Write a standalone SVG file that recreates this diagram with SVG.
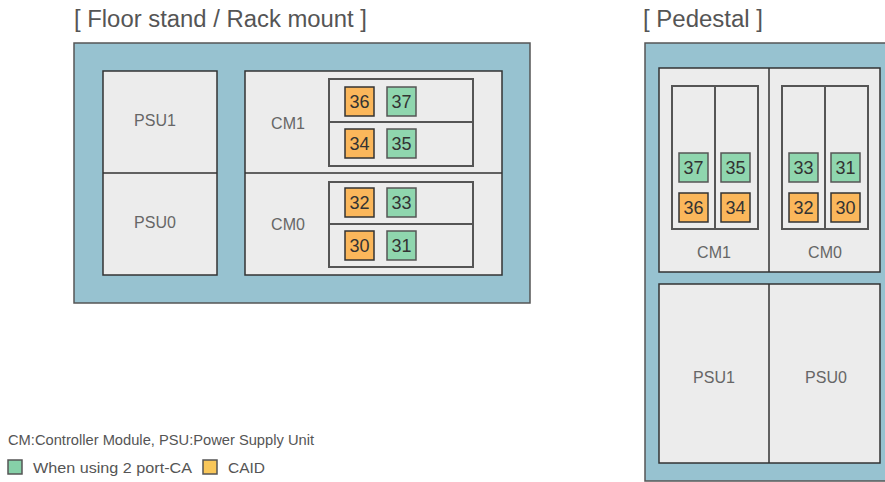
<svg xmlns="http://www.w3.org/2000/svg" width="885" height="482" viewBox="0 0 885 482">
<style>
text{font-family:"Liberation Sans",Arial,sans-serif}
.title{font-size:23px;fill:#555}
.lbl{font-size:16px;fill:#666;text-anchor:middle}
.num{font-size:18px;fill:#333;text-anchor:middle}
.leg{font-size:14.5px;fill:#555}
.outer{fill:#97c2d0;stroke:#555;stroke-width:1.5}
.panel{fill:#ececec;stroke:#333;stroke-width:1.5}
.cm{fill:#ececec;stroke:#555;stroke-width:2}
.div{stroke:#333;stroke-width:1.5}
.cdiv{stroke:#555;stroke-width:2}
.or{fill:#fbb75b;stroke:#333;stroke-width:1.5}
.gr{fill:#8fd6ae;stroke:#555;stroke-width:1.5}
</style>
<text class="title" x="74" y="27" textLength="293" lengthAdjust="spacingAndGlyphs">[ Floor stand / Rack mount ]</text>
<text class="title" x="643" y="27" textLength="120" lengthAdjust="spacingAndGlyphs">[ Pedestal ]</text>
<g id="floor">
<rect class="outer" x="74" y="43" width="456" height="260"/>
<g id="floor-psu">
<rect class="panel" x="103" y="71" width="114" height="204"/>
<line class="div" x1="103" y1="173" x2="217" y2="173"/>
<text class="lbl" x="155" y="126">PSU1</text>
<text class="lbl" x="155" y="228">PSU0</text>
</g>
<g id="floor-cm">
<rect class="panel" x="245" y="71" width="257" height="204"/>
<line class="div" x1="245" y1="173" x2="502" y2="173"/>
<text class="lbl" x="288" y="129">CM1</text>
<text class="lbl" x="288" y="230">CM0</text>
<rect class="cm" x="329" y="79" width="144" height="87"/>
<line class="cdiv" x1="329" y1="122" x2="473" y2="122"/>
<rect class="cm" x="329" y="182" width="144" height="85"/>
<line class="cdiv" x1="329" y1="224" x2="473" y2="224"/>
<g id="f36"><rect class="or" x="345" y="87" width="29" height="29"/><text class="num" x="359.5" y="108">36</text></g>
<g id="f37"><rect class="gr" x="387" y="87" width="29" height="29"/><text class="num" x="401.5" y="108">37</text></g>
<g id="f34"><rect class="or" x="345" y="129" width="29" height="29"/><text class="num" x="359.5" y="150">34</text></g>
<g id="f35"><rect class="gr" x="387" y="129" width="29" height="29"/><text class="num" x="401.5" y="150">35</text></g>
<g id="f32"><rect class="or" x="345" y="188" width="29" height="29"/><text class="num" x="359.5" y="209">32</text></g>
<g id="f33"><rect class="gr" x="387" y="188" width="29" height="29"/><text class="num" x="401.5" y="209">33</text></g>
<g id="f30"><rect class="or" x="345" y="231" width="29" height="29"/><text class="num" x="359.5" y="252">30</text></g>
<g id="f31"><rect class="gr" x="387" y="231" width="29" height="29"/><text class="num" x="401.5" y="252">31</text></g>
</g>
</g>
<g id="pedestal">
<rect class="outer" x="645" y="43" width="250" height="438"/>
<g id="ped-cm">
<rect class="panel" x="659" y="68" width="221" height="204"/>
<line class="div" x1="769" y1="68" x2="769" y2="272"/>
<rect class="cm" x="672" y="86" width="86" height="143"/>
<line class="cdiv" x1="715" y1="86" x2="715" y2="229"/>
<rect class="cm" x="782" y="86" width="86" height="143"/>
<line class="cdiv" x1="825" y1="86" x2="825" y2="229"/>
<text class="lbl" x="714" y="258">CM1</text>
<text class="lbl" x="825" y="258">CM0</text>
<g id="p37"><rect class="gr" x="679" y="153" width="29" height="29"/><text class="num" x="693.5" y="174">37</text></g>
<g id="p36"><rect class="or" x="679" y="193" width="29" height="29"/><text class="num" x="693.5" y="214">36</text></g>
<g id="p35"><rect class="gr" x="721" y="153" width="29" height="29"/><text class="num" x="735.5" y="174">35</text></g>
<g id="p34"><rect class="or" x="721" y="193" width="29" height="29"/><text class="num" x="735.5" y="214">34</text></g>
<g id="p33"><rect class="gr" x="789" y="153" width="29" height="29"/><text class="num" x="803.5" y="174">33</text></g>
<g id="p32"><rect class="or" x="789" y="193" width="29" height="29"/><text class="num" x="803.5" y="214">32</text></g>
<g id="p31"><rect class="gr" x="831" y="153" width="29" height="29"/><text class="num" x="845.5" y="174">31</text></g>
<g id="p30"><rect class="or" x="831" y="193" width="29" height="29"/><text class="num" x="845.5" y="214">30</text></g>
</g>
<g id="ped-psu">
<rect class="panel" x="659" y="284" width="221" height="179"/>
<line class="div" x1="769" y1="284" x2="769" y2="463"/>
<text class="lbl" x="714" y="383">PSU1</text>
<text class="lbl" x="826" y="383">PSU0</text>
</g>
</g>
<g id="legend">
<text class="leg" x="8" y="445" textLength="306" lengthAdjust="spacingAndGlyphs">CM:Controller Module, PSU:Power Supply Unit</text>
<rect x="8" y="460" width="14" height="14" fill="#86d0a8" stroke="#555" stroke-width="1.5"/>
<text class="leg" x="33" y="473" textLength="159" lengthAdjust="spacingAndGlyphs">When using 2 port-CA</text>
<rect x="203" y="460" width="14" height="14" fill="#f9c75a" stroke="#555" stroke-width="1.5"/>
<text class="leg" x="228" y="473" textLength="37" lengthAdjust="spacingAndGlyphs">CAID</text>
</g>
<g id="connectors"/>
</svg>
